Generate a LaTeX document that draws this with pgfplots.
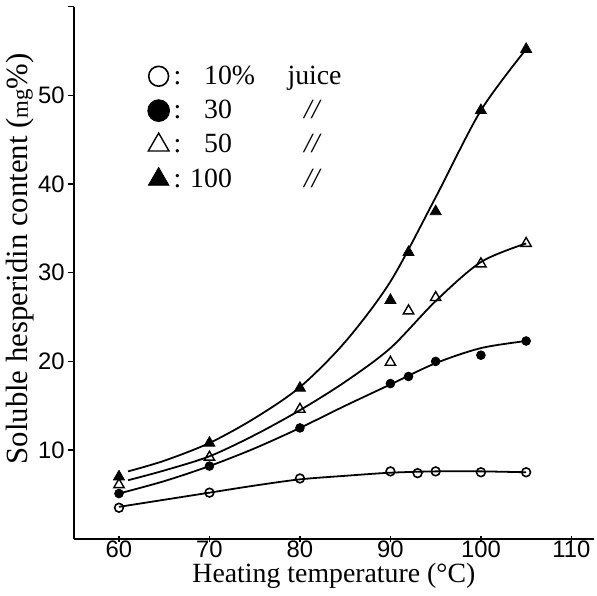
\documentclass[border=0pt]{standalone}
\usepackage{pgfplots}
\pgfplotsset{compat=1.18}
\usepackage{fontspec}
\setmainfont{Liberation Serif}
\setsansfont{Liberation Sans}
\begin{document}
\begin{tikzpicture}
\begin{axis}[
  scale only axis,
  width=262pt, height=268pt,
  xmin=55, xmax=112.5, ymin=0, ymax=60,
  axis x line=bottom, axis y line=left,
  axis line style={-, line width=0.9pt},
  xtick={60,70,80,90,100,110},
  ytick={10,20,30,40,50},
  extra y ticks={60}, extra y tick labels={},
  tick style={black, line width=0.8pt},
  major tick length=3pt,
  ytick align=outside,
  /pgf/number format/assume math mode=true,
  tick label style={font=\sffamily\fontsize{12}{14}\selectfont},
  xticklabel style={yshift=4pt},
  yticklabel style={xshift=2pt},
  xlabel={Heating temperature (°C)},
  ylabel={Soluble hesperidin content ({\fontsize{11.5}{12}\selectfont mg}\%)},
  xlabel style={font=\fontsize{14}{16}\selectfont, yshift=4pt},
  ylabel style={font=\fontsize{15.5}{17}\selectfont, yshift=-11pt, xshift=7pt},
  legend style={draw=none, fill=none, at={(0.13,0.905)}, anchor=north west,
    font=\fontsize{14}{16}\selectfont, row sep=2.5pt, legend cell align=left},
  legend image code/.code={\draw[#1] plot coordinates {(0.3cm,0cm)};},
]
% legend images
\addlegendimage{only marks, mark=o, mark size=5pt, line width=0.8pt}
\addlegendentry{\makebox[1.1em][l]{:}\makebox[3.0em][l]{10\%}juice}
\addlegendimage{only marks, mark=*, mark size=5.5pt}
\addlegendentry{\makebox[1.1em][l]{:}\makebox[3.0em][l]{30}\hspace{0.6em}{\itshape //}}
\addlegendimage{only marks, mark=triangle, mark size=6pt, line width=0.7pt}
\addlegendentry{\makebox[1.1em][l]{:}\makebox[3.0em][l]{50}\hspace{0.6em}{\itshape //}}
\addlegendimage{only marks, mark=triangle*, mark size=6pt}
\addlegendentry{\makebox[0.6em][l]{:}\makebox[3.5em][l]{100}\hspace{0.6em}{\itshape //}}

% curves
\addplot[forget plot, smooth, line width=0.9pt] coordinates {
 (60,3.6) (65,4.4) (70,5.2) (75,6.0) (80,6.7) (85,7.1) (90,7.45) (95,7.6) (100,7.6) (105,7.5)};
\addplot[forget plot, smooth, line width=0.9pt] coordinates {
 (60,5.1) (65,6.5) (70,8.2) (75,10.2) (80,12.5) (85,15.0) (90,17.4) (95,19.8) (100,21.5) (105,22.3)};
\addplot[forget plot, smooth, line width=0.9pt] coordinates {
 (61,6.6) (65,7.7) (70,9.3) (75,11.7) (80,14.5) (85,17.7) (90,21.5) (95,26.8) (100,31.2) (105,33.3)};
\addplot[forget plot, smooth, line width=0.9pt] coordinates {
 (61,7.6) (65,8.8) (70,10.8) (75,13.6) (80,17.1) (85,22.2) (90,29.0) (95,38.5) (100,48.3) (105,55.2)};

% data points
\addplot[forget plot, only marks, mark=o, mark size=2.2pt, line width=0.8pt, fill=white] coordinates {
 (60,3.5) (70,5.2) (80,6.8) (90,7.6) (93,7.4) (95,7.6) (100,7.5) (105,7.5)};
\addplot[forget plot, only marks, mark=*, mark size=2.2pt] coordinates {
 (60,5.1) (70,8.2) (80,12.5) (90,17.5) (92,18.3) (95,20.0) (100,20.7) (105,22.3)};
\addplot[forget plot, only marks, mark=triangle, mark size=3pt, line width=0.7pt] coordinates {
 (60,6.1) (70,9.2) (80,14.6) (90,19.9) (92,25.7) (95,27.2) (100,31.0) (105,33.3)};
\addplot[forget plot, only marks, mark=triangle*, mark size=3.2pt] coordinates {
 (60,7.0) (70,10.8) (80,17.0) (90,26.9) (92,32.3) (95,36.9) (100,48.3) (105,55.2)};
\end{axis}
\end{tikzpicture}
\end{document}
